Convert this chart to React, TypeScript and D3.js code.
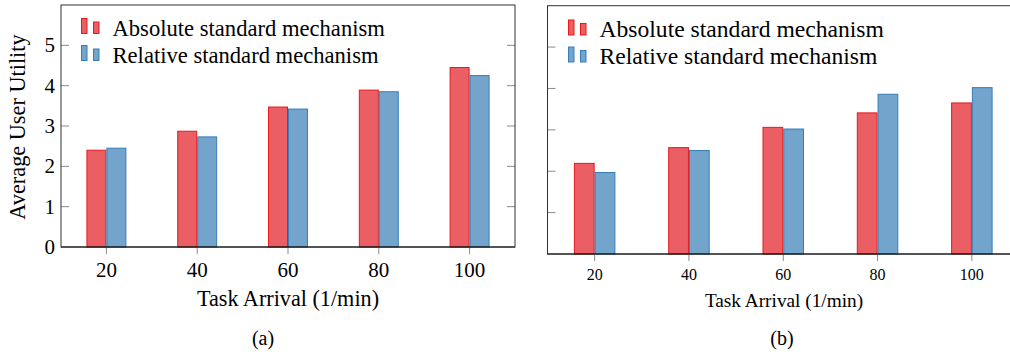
import React from 'react';
import * as d3 from 'd3';

// task arrival rates on the x axis
const arrivals = [20, 40, 60, 80, 100];
// panel (a) average user utility
const absoluteA = [2.40, 2.87, 3.47, 3.89, 4.45];
const relativeA = [2.45, 2.73, 3.42, 3.85, 4.25];
// panel (b)
const absoluteB = [2.19, 2.57, 3.06, 3.41, 3.65];
const relativeB = [1.97, 2.50, 3.02, 3.86, 4.02];
const yTicks = [0, 1, 2, 3, 4, 5];
const seriesNames = ['Absolute standard mechanism', 'Relative standard mechanism'];

const RED = {fill: '#EB5F64', stroke: '#E41A1C'};
const BLUE = {fill: '#72A4CC', stroke: '#377EB8'};
const FONT = 'Liberation Serif';
const ts = {fontFamily: FONT};

type PanelProps = {
  left: number; right: number; top: number; bottom: number;
  red: number[]; blue: number[];
  showYLabels: boolean;
  tickFont: number; labelFont: number; legendFont: number;
  legendX: number; legendY: number; legendGap: number;
  caption: string; captionX: number;
  xLabelX: number;
};

function Panel(p: PanelProps) {
  const x = d3.scaleLinear().domain([10, 110]).range([p.left, p.right]);
  const y = d3.scaleLinear().domain([0, 6]).range([p.bottom, p.top]);
  const barW = (x(40) - x(20)) * 0.22;
  const series = [{vals: p.red, c: RED, off: -1}, {vals: p.blue, c: BLUE, off: 0}];
  const small = p.tickFont < 18;

  return (
    <g>
      {/* y ticks, inside on both sides */}
      {yTicks.slice(1).map(t => (
        <g key={t}>
          <line x1={p.left} x2={p.left + 8} y1={y(t)} y2={y(t)} stroke="#8a8a8a" />
          <line x1={p.right - 8} x2={p.right} y1={y(t)} y2={y(t)} stroke="#8a8a8a" />
        </g>
      ))}
      {series.map((s, si) => s.vals.map((v, i) => (
        <rect key={si + '-' + i}
          x={x(arrivals[i]) + s.off * barW + 0.5} y={y(v)}
          width={barW - 1} height={y(0) - y(v)}
          fill={s.c.fill} stroke={s.c.stroke} strokeWidth={1} />
      )))}
      {arrivals.map(a => (
        <g key={a}>
          <line x1={x(a)} x2={x(a)} y1={p.bottom} y2={p.bottom + 7} stroke="#8a8a8a" />
          <text x={x(a)} y={p.bottom + (small ? 26 : 30)} textAnchor="middle" fontSize={p.tickFont} style={ts}>{a}</text>
        </g>
      ))}
      {p.showYLabels && yTicks.map(t => (
        <text key={t} x={p.left - 6} y={y(t) + 7} textAnchor="end" fontSize={p.tickFont} style={ts}>{t}</text>
      ))}
      {/* frame */}
      <rect x={p.left} y={p.top} width={p.right - p.left} height={p.bottom - p.top}
        fill="none" stroke="#333" strokeWidth={1} />
      <line x1={p.left} x2={p.right} y1={p.bottom} y2={p.bottom} stroke="#111" strokeWidth={1.2} />

      {/* legend */}
      {seriesNames.map((n, i) => {
        const c = i === 0 ? RED : BLUE;
        const by = p.legendY + i * p.legendGap;
        return (
          <g key={n}>
            <rect x={p.legendX} y={by - 15} width={5.5} height={15} fill={c.fill} stroke={c.stroke} />
            <rect x={p.legendX + 12} y={by - 11.5} width={5.5} height={11.5} fill={c.fill} stroke={c.stroke} />
            <text x={p.legendX + 31} y={by + 2} fontSize={p.legendFont} style={ts}>{n}</text>
          </g>
        );
      })}
      <text x={p.xLabelX} y={p.bottom + (small ? 53 : 59)} textAnchor="middle" fontSize={p.labelFont} style={ts}>Task Arrival (1/min)</text>
      <text x={p.captionX} y={345} textAnchor="middle" fontSize={20} style={ts}>{p.caption}</text>
    </g>
  );
}

export default function App() {
  return (
    <svg width={1010} height={354} style={{position: 'absolute', left: 0, top: 0, background: '#fff', fontFamily: FONT}}>
      <text transform="translate(25,127) rotate(-90)" textAnchor="middle" fontSize={22.3} style={ts}>Average User Utility</text>
      <Panel left={61} right={515} top={5} bottom={247} red={absoluteA} blue={relativeA}
        showYLabels tickFont={21} labelFont={22.2} legendFont={22.6}
        legendX={81.5} legendY={33.5} legendGap={27}
        caption="(a)" captionX={263} xLabelX={288} />
      <Panel left={547.5} right={1019} top={5.7} bottom={254} red={absoluteB} blue={relativeB}
        showYLabels={false} tickFont={16} labelFont={19.3} legendFont={23.6}
        legendX={568.5} legendY={35} legendGap={27}
        caption="(b)" captionX={782} xLabelX={784} />
    </svg>
  );
}
